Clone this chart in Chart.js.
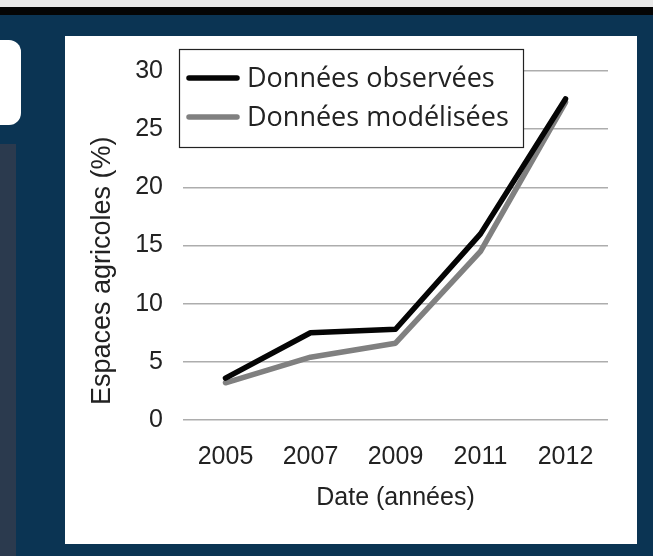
<!DOCTYPE html>
<html>
<head>
<meta charset="utf-8">
<script src="https://cdn.jsdelivr.net/npm/chart.js@4.4.1/dist/chart.umd.min.js"></script>
<style>
  html, body { margin: 0; padding: 0; }
  body { width: 653px; height: 556px; background: #0b3453; position: relative; overflow: hidden; }
  #topStrip { position: absolute; left: 0; top: 0; width: 653px; height: 7px; background: #e9e9e9; }
  #topBar { position: absolute; left: 0; top: 7px; width: 653px; height: 8px; background: #050505; }
  #tab { position: absolute; left: -12px; top: 40px; width: 33px; height: 85px; background: #fff; border-radius: 12px; }
  #sidePanel { position: absolute; left: 0; top: 144px; width: 16px; height: 412px; background: #2b3a4e; }
  #panel { position: absolute; left: 65px; top: 36px; width: 572px; height: 508px; background: #fff; }
</style>
</head>
<body>
<div id="topStrip"></div>
<div id="topBar"></div>
<div id="tab"></div>
<div id="sidePanel"></div>
<div id="panel"><canvas id="agriChart" width="572" height="508"></canvas></div>
<script>
// valeurs
var years = ['2005', '2007', '2009', '2011', '2012'];
var observed = [3.6, 7.5, 7.8, 16.0, 27.6];
var modeled = [3.2, 5.4, 6.6, 14.5, 27.3];
var yTicks = [0, 5, 10, 15, 20, 25, 30];
var yTitle = 'Espaces agricoles (%)';

// legende dessinee dans la zone du graphique, en haut a gauche
var boxLegend = {
    id: 'boxLegend',
    afterDraw: function(chart) {
        var ctx = chart.ctx;
        var area = chart.chartArea;
        var x = area.left - 4;
        var y = area.top - 22;
        ctx.save();
        ctx.fillStyle = '#fff';
        ctx.fillRect(x, y, 344, 98);
        ctx.strokeStyle = '#222';
        ctx.lineWidth = 1.2;
        ctx.strokeRect(x + 0.5, y + 0.5, 344, 98);
        ctx.font = '27px "Open Sans"';
        ctx.textBaseline = 'middle';
        chart.data.datasets.forEach(function(ds, i) {
            var ly = y + 29 + i * 39;
            ctx.beginPath();
            ctx.strokeStyle = ds.borderColor;
            ctx.lineWidth = 5.5;
            ctx.lineCap = 'round';
            ctx.moveTo(x + 10, ly);
            ctx.lineTo(x + 58, ly);
            ctx.stroke();
            ctx.fillStyle = '#222';
            ctx.fillText(ds.label, x + 68, ly + 1);
        });
        ctx.restore();
    }
};

// titre de l'axe y, un peu plus bas que le centre comme sur l'original
var yAxisTitle = {
    id: 'yAxisTitle',
    afterDraw: function(chart) {
        var ctx = chart.ctx;
        var area = chart.chartArea;
        ctx.save();
        ctx.translate(area.left - 80, area.bottom - 15);
        ctx.rotate(-Math.PI / 2);
        ctx.font = '27px "Liberation Sans", Arial';
        ctx.fillStyle = '#222';
        ctx.textAlign = 'left';
        ctx.textBaseline = 'middle';
        ctx.fillText(yTitle, 0, 0);
        ctx.restore();
    }
};

var ctx = document.getElementById('agriChart').getContext('2d');
var chart = new Chart(ctx, {
    type: 'line',
    data: {
        labels: years,
        datasets: [{
            label: 'Données observées',
            data: observed,
            borderColor: '#050505',
            borderWidth: 5.5,
            pointRadius: 0,
            borderCapStyle: 'round',
            borderJoinStyle: 'round',
            tension: 0
        }, {
            label: 'Données modélisées',
            data: modeled,
            borderColor: '#808080',
            borderWidth: 5.5,
            pointRadius: 0,
            borderCapStyle: 'round',
            borderJoinStyle: 'round',
            tension: 0
        }]
    },
    options: {
        responsive: false,
        animation: false,
        layout: { padding: { left: 0, right: 29, top: 33, bottom: 0 } },
        plugins: {
            legend: { display: false },
            tooltip: { enabled: false }
        },
        scales: {
            x: {
                offset: true,
                afterFit: function(scale) { scale.height = 124; },
                grid: { display: false },
                border: { display: false },
                ticks: {
                    padding: 14,
                    color: '#222',
                    font: { family: '"Liberation Sans", Arial', size: 25 }
                },
                title: {
                    display: true,
                    text: 'Date (années)',
                    color: '#222',
                    padding: { top: 0, bottom: 31 },
                    font: { family: '"Liberation Sans", Arial', size: 25 }
                }
            },
            y: {
                min: 0,
                max: 30,
                afterFit: function(scale) { scale.width = 118; },
                afterBuildTicks: function(scale) {
                    scale.ticks = yTicks.map(function(v) { return { value: v }; });
                },
                grid: { color: '#adadad', lineWidth: 1.6, drawTicks: false },
                border: { display: false },
                ticks: {
                    padding: 20,
                    color: '#222',
                    font: { family: '"Liberation Sans", Arial', size: 25 }
                }
            }
        }
    },
    plugins: [boxLegend, yAxisTitle]
});
</script>
</body>
</html>
